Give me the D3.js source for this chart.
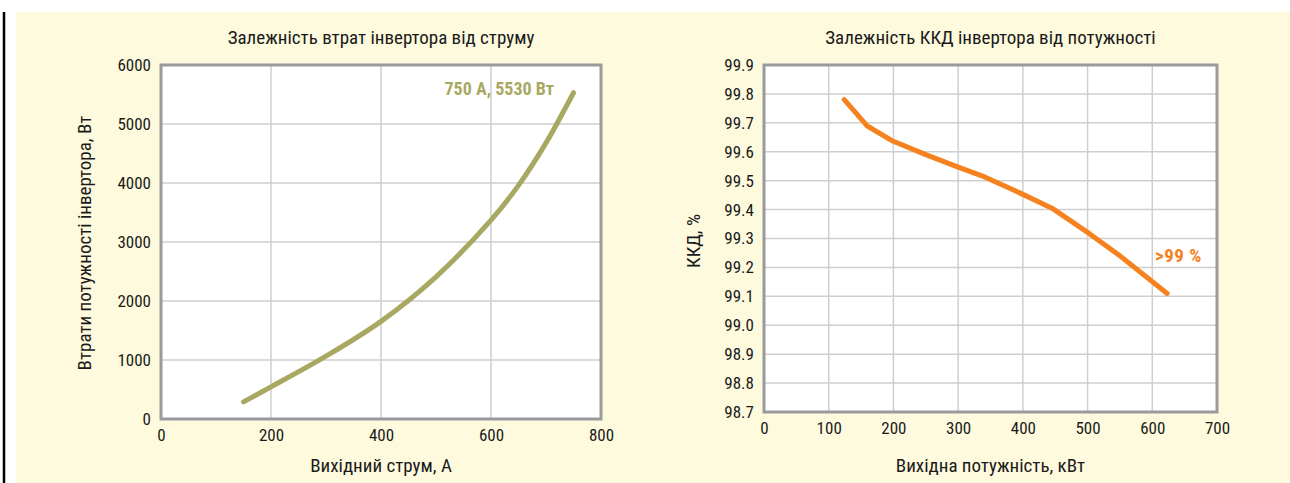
<!DOCTYPE html>
<html><head><meta charset="utf-8">
<script src="https://cdn.jsdelivr.net/npm/d3@7"></script>
<style>
body{margin:0;background:#fff;}
svg text{font-family:"Liberation Sans Narrow","Roboto Condensed","Liberation Sans",sans-serif;fill:#1a1a1a;}
</style></head><body>
<svg id="c" width="1290" height="483"></svg>
<script>
// Left chart data
const lossCurrent = [150, 200, 300, 400, 500, 600, 650, 700, 750];
const lossWatts   = [290, 545, 1065, 1655, 2410, 3370, 3960, 4680, 5530];
const lossXTicks = [0, 200, 400, 600, 800];
const lossYTicks = [0, 1000, 2000, 3000, 4000, 5000, 6000];
// Right chart data
const effPower = [124, 159, 199, 250, 300, 341, 396, 445, 504, 550, 623];
const effValue = [99.78, 99.69, 99.637, 99.59, 99.547, 99.513, 99.457, 99.405, 99.315, 99.24, 99.11];
const effXTicks = [0, 100, 200, 300, 400, 500, 600, 700];
const effYTicks = [98.7, 98.8, 98.9, 99.0, 99.1, 99.2, 99.3, 99.4, 99.5, 99.6, 99.7, 99.8, 99.9];

const svg = d3.select("#c");
svg.append("rect").attr("x",16).attr("y",12).attr("width",1274).attr("height",471).attr("fill","#fefade");
svg.append("line").attr("x1",4).attr("x2",4).attr("y1",12).attr("y2",483).attr("stroke","#000").attr("stroke-width",2.5);

function chart(o){
  const x = d3.scaleLinear().domain(o.xd).range([o.x0,o.x1]);
  const y = d3.scaleLinear().domain(o.yd).range([o.y1,o.y0]);
  const g = svg.append("g");
  g.append("rect").attr("x",o.x0).attr("y",o.y0).attr("width",o.x1-o.x0).attr("height",o.y1-o.y0).attr("fill","#fff");
  g.selectAll(".vx").data(o.xt).enter().append("line")
    .attr("x1",d=>x(d)).attr("x2",d=>x(d)).attr("y1",o.y0).attr("y2",o.y1).attr("stroke","#cfcfcf").attr("stroke-width",1.5);
  g.selectAll(".hy").data(o.yt).enter().append("line")
    .attr("y1",d=>y(d)).attr("y2",d=>y(d)).attr("x1",o.x0).attr("x2",o.x1).attr("stroke","#cfcfcf").attr("stroke-width",1.5);
  g.append("rect").attr("x",o.x0).attr("y",o.y0).attr("width",o.x1-o.x0).attr("height",o.y1-o.y0).attr("fill","none").attr("stroke","#9a9a9c").attr("stroke-width",3);
  const xa = g.append("g").attr("transform",`translate(0,${o.y1})`)
    .call(d3.axisBottom(x).tickValues(o.xt).tickSize(0).tickPadding(10).tickFormat(d3.format("d")));
  xa.select(".domain").remove();
  xa.selectAll("text").attr("font-size",17).attr("fill","#1a1a1a");
  const ya = g.append("g").attr("transform",`translate(${o.x0},0)`)
    .call(d3.axisLeft(y).tickValues(o.yt).tickSize(0).tickPadding(10).tickFormat(o.yf));
  ya.select(".domain").remove();
  ya.selectAll("text").attr("font-size",17).attr("fill","#1a1a1a");
  g.append("text").attr("x",(o.x0+o.x1)/2).attr("y",44).attr("text-anchor","middle").attr("font-size",19).text(o.title);
  g.append("text").attr("x",(o.x0+o.x1)/2).attr("y",472).attr("text-anchor","middle").attr("font-size",19).text(o.xl);
  g.append("text").attr("transform",`translate(${o.ylx},${o.yly}) rotate(-90)`).attr("text-anchor","middle").attr("font-size",19).text(o.yl);
  const line = d3.line().x(d=>x(d[0])).y(d=>y(d[1])).curve(o.curve);
  g.append("path").datum(o.xs.map((v,i)=>[v,o.ys[i]])).attr("d",line).attr("fill","none")
    .attr("stroke",o.color).attr("stroke-width",5).attr("stroke-linecap","round").attr("stroke-linejoin","round");
  g.append("text").attr("x",o.ax).attr("y",o.ay).attr("text-anchor",o.aa).attr("font-size",o.afs).attr("font-weight","bold")
    .attr("letter-spacing",o.als).style("fill",o.color).text(o.atext);
}

chart({x0:161,x1:601,y0:65,y1:419,xd:[0,800],yd:[0,6000],xt:lossXTicks,yt:lossYTicks,yf:d3.format("d"),
  title:"Залежність втрат інвертора від струму",xl:"Вихідний струм, А",yl:"Втрати потужності інвертора, Вт",ylx:91,yly:243,
  xs:lossCurrent,ys:lossWatts,color:"#a9a862",curve:d3.curveCatmullRom,atext:"750 А, 5530 Вт",ax:554,ay:95,aa:"end",afs:18,als:0});

chart({x0:764,x1:1217,y0:65,y1:412,xd:[0,700],yd:[98.7,99.9],xt:effXTicks,yt:effYTicks,yf:d3.format(".1f"),
  title:"Залежність ККД інвертора від потужності",xl:"Вихідна потужність, кВт",yl:"ККД, %",ylx:700,yly:241,
  xs:effPower,ys:effValue,color:"#f5821f",curve:d3.curveLinear,atext:">99 %",ax:1155,ay:262,aa:"start",afs:19,als:0.5});
</script></body></html>
